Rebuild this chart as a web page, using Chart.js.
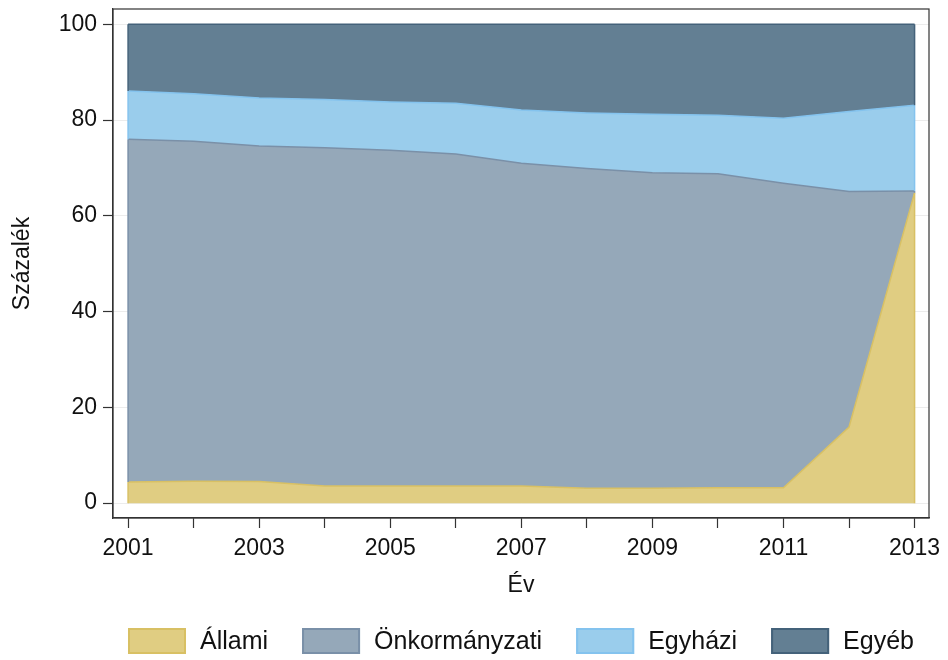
<!DOCTYPE html>
<html>
<head>
<meta charset="utf-8">
<script src="https://cdn.jsdelivr.net/npm/chart.js@4"></script>
<style>
  html, body { margin: 0; padding: 0; background: #fff; }
  #wrap { width: 948px; height: 660px; }
</style>
</head>
<body>
<div id="wrap"><canvas id="share"></canvas></div>
<script>
const years = [2001, 2002, 2003, 2004, 2005, 2006, 2007, 2008, 2009, 2010, 2011, 2012, 2013]
const allami = [4.4, 4.6, 4.5, 3.6, 3.6, 3.6, 3.6, 3.1, 3.1, 3.2, 3.2, 15.9, 64.8]
const onkormanyzati = [71.6, 71.0, 70.1, 70.6, 70.1, 69.3, 67.4, 66.8, 65.9, 65.6, 63.6, 49.2, 0.4]
const egyhazi = [10.1, 9.9, 10.0, 10.1, 10.1, 10.6, 11.1, 11.6, 12.2, 12.2, 13.6, 16.7, 17.9]
const egyeb = [13.9, 14.5, 15.4, 15.7, 16.2, 16.5, 17.9, 18.5, 18.8, 19.0, 19.6, 18.2, 16.9]
const yTicks = [0, 20, 40, 60, 80, 100]

const FONT = 'Liberation Sans, Arial, sans-serif'
const INK = '#111'
const FRAME = '#333'

const series = (label, values, fill, border, fillTo) => ({
    label: label,
    data: years.map((y, i) => ({ x: y, y: values[i] })),
    backgroundColor: fill,
    borderColor: border,
    borderWidth: 1.5,
    pointRadius: 0,
    tension: 0,
    fill: fillTo,
})

// Stata-style frame plus the vertical side edges of each stacked area
const frame = {
    id: 'frame',
    afterDatasetsDraw(chart) {
        const c = chart.ctx
        const y = chart.scales.y
        c.save()
        chart.data.datasets.forEach((ds, i) => {
            const pts = chart.getDatasetMeta(i).data
            ;[0, pts.length - 1].forEach((k) => {
                let base = y.getPixelForValue(0)
                if (i > 0) base = chart.getDatasetMeta(i - 1).data[k].y
                c.strokeStyle = ds.borderColor
                c.lineWidth = 1.5
                c.beginPath()
                c.moveTo(pts[k].x, base)
                c.lineTo(pts[k].x, pts[k].y)
                c.stroke()
            })
        })
        const a = chart.chartArea
        c.strokeStyle = FRAME
        c.lineWidth = 1.2
        c.strokeRect(a.left, a.top, a.right - a.left, a.bottom - a.top)
        c.restore()
    },
}

// one-row legend centred under the plot region
const keyRow = {
    id: 'keyRow',
    afterDraw(chart) {
        const c = chart.ctx
        const a = chart.chartArea
        const boxW = 58, boxH = 26, gapText = 14, gapItem = 34, top = 628
        c.save()
        c.font = '25px ' + FONT
        const items = chart.data.datasets.map((ds) => ({ ds: ds, w: boxW + gapText + c.measureText(ds.label).width }))
        const total = items.reduce((s, it) => s + it.w, 0) + gapItem * (items.length - 1)
        let x = (a.left + a.right) / 2 - total / 2
        items.forEach((it) => {
            c.fillStyle = it.ds.backgroundColor
            c.fillRect(x, top, boxW, boxH)
            c.strokeStyle = it.ds.borderColor
            c.lineWidth = 2
            c.strokeRect(x + 1, top + 1, boxW - 2, boxH - 2)
            c.fillStyle = INK
            c.textBaseline = 'middle'
            c.textAlign = 'left'
            c.fillText(it.ds.label, x + boxW + gapText, top + boxH / 2 + 1)
            x += it.w + gapItem
        })
        c.restore()
    },
}

new Chart(document.getElementById('share'), {
    type: 'line',
    data: {
        datasets: [
            series('Állami', allami, 'rgb(224,205,130)', 'rgb(216,192,100)', 'origin'),
            series('Önkormányzati', onkormanyzati, 'rgb(149,168,185)', 'rgb(122,144,168)', '-1'),
            series('Egyházi', egyhazi, 'rgb(154,205,236)', 'rgb(132,195,238)', '-1'),
            series('Egyéb', egyeb, 'rgb(99,127,147)', 'rgb(68,98,122)', '-1'),
        ],
    },
    options: {
        responsive: true,
        maintainAspectRatio: false,
        animation: false,
        layout: { padding: { top: 9, right: 19, left: 0, bottom: 64 } },
        plugins: {
            legend: { display: false },
            tooltip: { enabled: false },
        },
        scales: {
            x: {
                type: 'linear',
                min: 2000.77,
                max: 2013.22,
                afterFit: (s) => {
                    s.height = 78
                    s.paddingLeft = 0
                    s.paddingRight = 0
                },
                afterBuildTicks: (s) => { s.ticks = years.map((v) => ({ value: v })) },
                ticks: {
                    autoSkip: false,
                    maxRotation: 0,
                    padding: 7,
                    color: INK,
                    font: { family: FONT, size: 23 },
                    callback: (v) => (v % 2 === 1 ? String(v) : ''),
                },
                grid: { drawOnChartArea: false, tickLength: 10, tickColor: FRAME, tickWidth: 1.2 },
                border: { color: FRAME, width: 1.2 },
                title: {
                    display: true,
                    text: 'Év',
                    color: INK,
                    font: { family: FONT, size: 23 },
                    padding: { top: 0, bottom: -3 },
                },
            },
            y: {
                stacked: true,
                min: -3.1,
                max: 103.2,
                afterFit: (s) => {
                    s.width = 113
                    s.paddingTop = 0
                    s.paddingBottom = 0
                },
                afterBuildTicks: (s) => { s.ticks = yTicks.map((v) => ({ value: v })) },
                ticks: {
                    padding: 6,
                    color: INK,
                    font: { family: FONT, size: 23 },
                },
                grid: { color: '#ececec', lineWidth: 1, tickLength: 10, tickColor: FRAME, tickWidth: 1.2 },
                border: { color: FRAME, width: 1.2 },
                title: {
                    display: true,
                    text: 'Százalék',
                    color: INK,
                    font: { family: FONT, size: 23 },
                    padding: { top: 9, bottom: 0 },
                },
            },
        },
    },
    plugins: [frame, keyRow],
})
</script>
</body>
</html>
